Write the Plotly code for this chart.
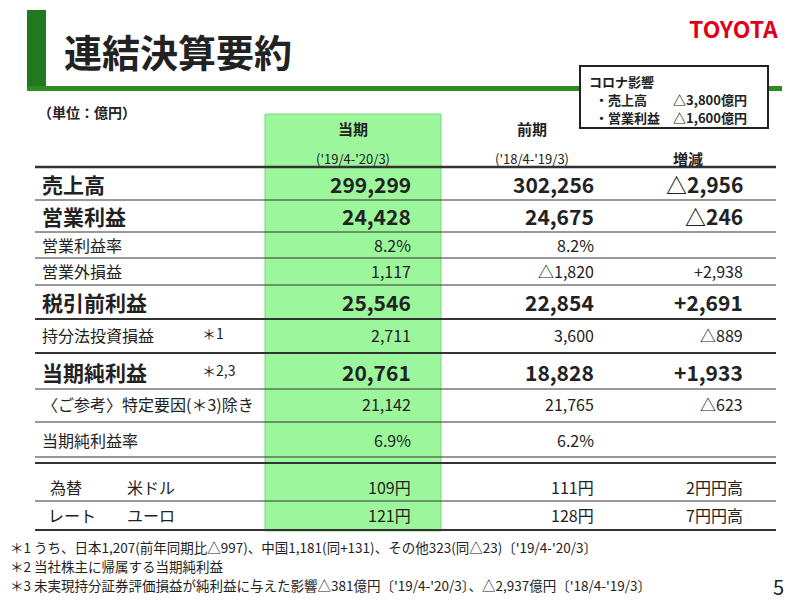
import plotly.graph_objects as go

labels = ["売上高", "営業利益", "営業利益率", "営業外損益", "税引前利益", "持分法投資損益", "当期純利益",
          "〈ご参考〉特定要因(＊3)除き", "当期純利益率"]
notes = ["", "", "", "", "", "＊1", "＊2,3", "", ""]
bold = [True, True, False, False, True, False, True, False, False]
current = ["299,299", "24,428", "8.2%", "1,117", "25,546", "2,711", "20,761", "21,142", "6.9%"]
previous = ["302,256", "24,675", "8.2%", "△1,820", "22,854", "3,600", "18,828", "21,765", "6.2%"]
change = ["△2,956", "△246", "", "+2,938", "+2,691", "△889", "+1,933", "△623", ""]
row_y = [184, 216, 245, 271, 302, 335, 372, 404, 440]

fx_labels = ["米ドル", "ユーロ"]
fx_current = ["109円", "121円"]
fx_previous = ["111円", "128円"]
fx_change = ["2円円高", "7円円高"]
fx_y = [487, 515]

footnotes = [
    "＊1 うち、日本1,207(前年同期比△997)、中国1,181(同+131)、その他323(同△23)〔'19/4-'20/3〕",
    "＊2 当社株主に帰属する当期純利益",
    "＊3 未実現持分証券評価損益が純利益に与えた影響△381億円〔'19/4-'20/3〕、△2,937億円〔'18/4-'19/3〕",
]

F = "Noto Sans CJK JP"
fig = go.Figure()
ann = []
shapes = []

def t(x, y, s, size, anchor="left", bold_=False, color="#222"):
    ann.append(dict(x=x, y=y, text=f"<b>{s}</b>" if bold_ else s, showarrow=False, xanchor=anchor,
                    yanchor="middle", font=dict(family=F, size=size, color=color)))

def line(x0, x1, y, w=1, c="#333"):
    shapes.append(dict(type="line", x0=x0, x1=x1, y0=y, y1=y, line=dict(color=c, width=w)))

# title area
shapes.append(dict(type="rect", x0=27, x1=46, y0=10, y1=90, fillcolor="#1f7a1f", line_width=0))
shapes.append(dict(type="rect", x0=27, x1=782, y0=86, y1=91, fillcolor="#2e8b22", line_width=0))
t(62, 50, "連結決算要約", 38, bold_=True)
t(780, 28, "TOYOTA", 23, "right", True, "#e0001a")

# green column
shapes.append(dict(type="rect", x0=265, x1=441, y0=114, y1=531, fillcolor="#9cf79c",
                   line=dict(color="#7bd87b", width=1), layer="below"))

# corona box
shapes.append(dict(type="rect", x0=580, x1=768, y0=66, y1=128, fillcolor="white",
                   line=dict(color="#222", width=2)))
t(587, 81, "コロナ影響", 13, bold_=True)
t(593, 99, "・売上高　　△3,800億円", 13, bold_=True)
t(593, 117, "・営業利益　△1,600億円", 13, bold_=True)

t(36, 112, "（単位：億円）", 14, bold_=True)
t(353, 128, "当期", 15, "center", True)
t(353, 158, "('19/4-'20/3)", 13, "center")
t(532, 128, "前期", 15, "center", True)
t(532, 158, "('18/4-'19/3)", 13, "center")
t(688, 158, "増減", 15, "center", True)

line(35, 776, 167, 2.5)
seps = [200, 232, 258, 285, 319, 353, 389, 422, 457]
thick = {319, 353}
for s in seps:
    line(35, 776, s, 2 if s in thick else 1)
line(35, 776, 463, 2)
line(35, 776, 530, 2)
line(35, 776, 501, 1)

for i in range(len(labels)):
    b = bold[i]
    sz = 21 if b else 16
    t(40, row_y[i], labels[i], sz, bold_=b)
    if notes[i]:
        t(200, row_y[i] - 2, notes[i], 14)
    t(413, row_y[i], current[i], sz, "right", b)
    t(596, row_y[i], previous[i], sz, "right", b)
    t(745, row_y[i], change[i], sz, "right", b)

t(48, fx_y[0], "為替", 16)
t(46, fx_y[1], "レート", 16)
for i in range(2):
    t(125, fx_y[i], fx_labels[i], 16)
    t(413, fx_y[i], fx_current[i], 16, "right")
    t(596, fx_y[i], fx_previous[i], 16, "right")
    t(745, fx_y[i], fx_change[i], 16, "right")

for i, s in enumerate(footnotes):
    t(8, 547 + i * 19, s, 13.5)
t(786, 586, "5", 20, "right")

# page body has an 8px margin, so shift the coordinate window by 8
fig.update_layout(width=800, height=612, margin=dict(l=0, r=0, t=0, b=0),
                  paper_bgcolor="white", plot_bgcolor="white", annotations=ann, shapes=shapes,
                  xaxis=dict(range=[8, 808], visible=False, fixedrange=True),
                  yaxis=dict(range=[620, 8], visible=False, fixedrange=True),
                  showlegend=False)
fig.write_html("out.html")
